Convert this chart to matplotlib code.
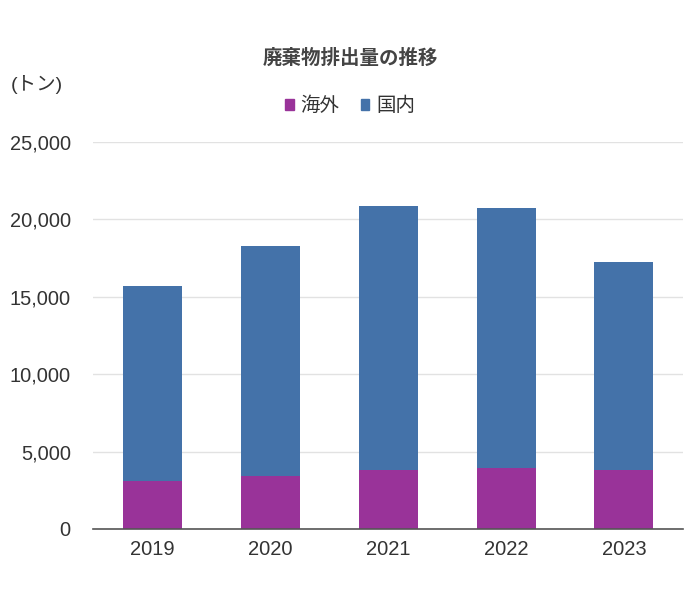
import matplotlib
matplotlib.use('Agg')
import matplotlib.pyplot as plt
import numpy as np
from matplotlib.patches import Patch
from matplotlib.ticker import FuncFormatter

plt.rcParams['font.family'] = ['Liberation Sans', 'Noto Sans CJK JP', 'DejaVu Sans']

years = ['2019', '2020', '2021', '2022', '2023']
overseas = [3090, 3440, 3810, 3910, 3820]
domestic = [12640, 14840, 17070, 16820, 13420]
series_labels = ['海外', '国内']
title = '廃棄物排出量の推移'
unit_label = '(トン)'

purple = '#993399'
blue = '#4472A9'

fig = plt.figure(figsize=(7.0, 6.09), dpi=100)
ax = fig.add_axes([0.1329, 0.1314, 0.8428, 0.6354])

x = np.arange(len(years))
ax.bar(x, overseas, width=0.5, color=purple, zorder=3)
ax.bar(x, domestic, width=0.5, bottom=overseas, color=blue, zorder=3)

ax.set_xlim(-0.5, len(years) - 0.5)
ax.set_ylim(0, 25000)
ax.set_yticks(np.arange(0, 25001, 5000))
ax.yaxis.set_major_formatter(FuncFormatter(lambda v, p: f'{int(v):,}'))
ax.set_xticks(x)
ax.set_xticklabels(years)

ax.grid(axis='y', color='#e2e2e2', linewidth=1, zorder=0)
for s in ['top', 'right', 'left']:
    ax.spines[s].set_visible(False)
ax.spines['bottom'].set_color('#555555')
ax.spines['bottom'].set_linewidth(1.2)
ax.spines['bottom'].set_zorder(4)
ax.tick_params(axis='y', length=0, pad=16, labelsize=14.4, labelcolor='#333333')
ax.tick_params(axis='x', length=0, pad=8, labelsize=14.5, labelcolor='#333333')

fig.text(0.5, 0.905, title, ha='center', va='center', fontsize=14,
         fontweight='bold', color='#444444')
fig.text(0.016, 0.862, unit_label, ha='left', va='center', fontsize=14,
         color='#333333')

handles = [Patch(color=purple), Patch(color=blue)]
fig.legend(handles, series_labels, loc='center', bbox_to_anchor=(0.5, 0.826),
           ncol=2, frameon=False, fontsize=14, handlelength=0.45, handleheight=0.45,
           handletextpad=0.35, columnspacing=1.1, labelcolor='#333333')

fig.savefig('out.png', dpi=100)
